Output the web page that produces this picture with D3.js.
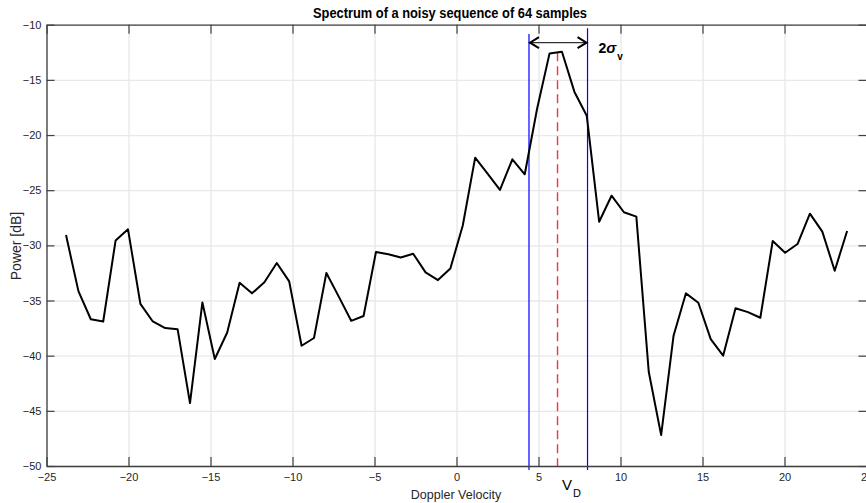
<!DOCTYPE html>
<html>
<head>
<meta charset="utf-8">
<script src="https://cdn.jsdelivr.net/npm/d3@7"></script>
<style>
  html, body { margin: 0; padding: 0; background: #fff; }
  svg { display: block; }
</style>
</head>
<body>
<svg id="chart" width="866" height="503"></svg>
<script>
// Doppler spectrum: 64 bins, power in dB
const sampleCount = 64;
const velocityStart = -23.81;
const velocityStep = 0.756;
const powerDb = [
  -29.07, -34.15, -36.7, -36.9, -29.55, -28.55, -35.3, -36.9,
  -37.5, -37.6, -44.3, -35.17, -40.3, -37.9, -33.4, -34.35,
  -33.35, -31.6, -33.26, -39.1, -38.4, -32.5, -34.65, -36.84,
  -36.4, -30.6, -30.8, -31.1, -30.76, -32.45, -33.15, -32.1,
  -28.2, -22.05, -23.5, -24.98, -22.2, -23.56, -17.6, -12.6,
  -12.45, -16.07, -18.25, -27.86, -25.5, -27.0, -27.4, -41.46,
  -47.2, -38.2, -34.35, -35.2, -38.5, -40.0, -35.7, -36.05,
  -36.56, -29.6, -30.67, -29.88, -27.13, -28.76, -32.3, -28.7
];
const velocities = d3.range(sampleCount).map(i => velocityStart + i * velocityStep);

// Axis ticks
const xTicks = [-25, -20, -15, -10, -5, 0, 5, 10, 15, 20, 25];
const yTicks = [-50, -45, -40, -35, -30, -25, -20, -15, -10];

// Spectral moments: mean Doppler velocity and width bounds (+/- sigma)
const meanVelocity = 6.16;
const widthBounds = [4.42, 7.99];
const widthLineTops = [-10.84, -10.33];
const markerBottom = -50.36;
const meanLineTop = -12.5;
const arrowLevel = -11.63;

const svg = d3.select("#chart");
const margin = { left: 46.5, right: 866.5, top: 24.7, bottom: 466 };
const x = d3.scaleLinear().domain([-25, 25]).range([margin.left, margin.right]);
const y = d3.scaleLinear().domain([-50, -10]).range([margin.bottom, margin.top]);
const W = margin.right - margin.left, H = margin.bottom - margin.top;

// Grid
svg.append("g")
  .attr("transform", `translate(0,${margin.bottom})`)
  .call(d3.axisBottom(x).tickValues(xTicks).tickSize(-H).tickFormat(""))
  .call(g => g.select(".domain").remove())
  .call(g => g.selectAll("line").attr("stroke", "#e0e0e0").attr("stroke-width", 1));
svg.append("g")
  .attr("transform", `translate(${margin.left},0)`)
  .call(d3.axisLeft(y).tickValues(yTicks).tickSize(-W).tickFormat(""))
  .call(g => g.select(".domain").remove())
  .call(g => g.selectAll("line").attr("stroke", "#e8e8e8").attr("stroke-width", 1.3));

// Vertical markers
const markers = svg.append("g");
widthBounds.forEach((v, i) => {
  markers.append("line")
    .attr("x1", x(v)).attr("x2", x(v))
    .attr("y1", y(widthLineTops[i])).attr("y2", y(markerBottom))
    .attr("stroke", "#0000ff").attr("stroke-width", 1.2);
});
markers.append("line")
  .attr("x1", x(meanVelocity)).attr("x2", x(meanVelocity))
  .attr("y1", y(meanLineTop)).attr("y2", y(-50))
  .attr("stroke", "#ff3030").attr("stroke-width", 1.4)
  .attr("stroke-dasharray", "9,5");

// Spectrum line
const line = d3.line().x((d, i) => x(velocities[i])).y(d => y(d));
svg.append("path")
  .datum(powerDb)
  .attr("d", line)
  .attr("fill", "none")
  .attr("stroke", "#000")
  .attr("stroke-width", 2)
  .attr("stroke-linejoin", "round");

// Double arrow for spectral width
const ay = y(arrowLevel), ax1 = x(widthBounds[0]), ax2 = x(widthBounds[1]);
const arrow = svg.append("g");
arrow.append("line")
  .attr("x1", ax1 + 2).attr("x2", ax2 - 2).attr("y1", ay).attr("y2", ay)
  .attr("stroke", "#333").attr("stroke-width", 1.2);
arrow.append("path")
  .attr("d", `M${ax1 + 10},${ay - 5.5} L${ax1 + 1},${ay} L${ax1 + 10},${ay + 5.5}`)
  .attr("fill", "none").attr("stroke", "#000").attr("stroke-width", 2);
arrow.append("path")
  .attr("d", `M${ax2 - 10},${ay - 5.5} L${ax2 - 1},${ay} L${ax2 - 10},${ay + 5.5}`)
  .attr("fill", "none").attr("stroke", "#000").attr("stroke-width", 2);

const sig = svg.append("text")
  .attr("x", ax2 + 11).attr("y", ay + 10)
  .attr("font-family", "Liberation Sans, Arial, sans-serif")
  .attr("font-weight", "bold").attr("font-size", 14).attr("fill", "#000");
sig.append("tspan").text("2");
sig.append("tspan").attr("font-style", "italic").attr("font-size", 15).text("σ");
sig.append("tspan").attr("font-size", 10).attr("dy", 7).attr("dx", 1).text("v");

// Axes (ticks pointing inward, box on all sides)
const axisColor = "#404040";
function styleAxis(g) {
  g.select(".domain").attr("stroke", axisColor).attr("stroke-width", 1.3);
  g.selectAll(".tick line").attr("stroke", axisColor).attr("stroke-width", 1.2);
  g.selectAll(".tick text").attr("fill", "#262626")
    .attr("font-family", "Liberation Sans, Arial, sans-serif").attr("font-size", 11);
}
svg.append("g")
  .attr("transform", `translate(0,${margin.bottom})`)
  .call(d3.axisBottom(x).tickValues(xTicks).tickSizeInner(-9).tickSizeOuter(0).tickPadding(7))
  .call(styleAxis);
svg.append("g")
  .attr("transform", `translate(0,${margin.top})`)
  .call(d3.axisTop(x).tickValues(xTicks).tickSizeInner(-9).tickSizeOuter(0).tickFormat(""))
  .call(styleAxis);
svg.append("g")
  .attr("transform", `translate(${margin.left},0)`)
  .call(d3.axisLeft(y).tickValues(yTicks).tickSizeInner(-8).tickSizeOuter(0).tickPadding(5))
  .call(styleAxis);
svg.append("g")
  .attr("transform", `translate(${margin.right},0)`)
  .call(d3.axisRight(y).tickValues(yTicks).tickSizeInner(-8).tickSizeOuter(0).tickFormat(""))
  .call(styleAxis);

// Title and axis labels
svg.append("text")
  .attr("x", 450).attr("y", 18)
  .attr("text-anchor", "middle")
  .attr("font-family", "Liberation Sans Narrow, Arial Narrow, Liberation Sans, sans-serif")
  .attr("font-weight", "bold").attr("font-size", 14).attr("fill", "#000")
  .attr("textLength", 274).attr("lengthAdjust", "spacingAndGlyphs")
  .text("Spectrum of a noisy sequence of 64 samples");

svg.append("text")
  .attr("x", 456).attr("y", 499)
  .attr("text-anchor", "middle")
  .attr("font-family", "Liberation Sans, Arial, sans-serif")
  .attr("font-size", 12.5).attr("fill", "#262626")
  .text("Doppler Velocity");

svg.append("text")
  .attr("transform", "translate(21,246) rotate(-90)")
  .attr("text-anchor", "middle")
  .attr("font-family", "Liberation Sans, Arial, sans-serif")
  .attr("font-size", 14).attr("fill", "#262626")
  .text("Power [dB]");

const vd = svg.append("text")
  .attr("x", 562).attr("y", 490)
  .attr("font-family", "Liberation Sans, Arial, sans-serif")
  .attr("font-size", 15).attr("fill", "#000");
vd.append("tspan").text("V");
vd.append("tspan").attr("font-size", 11).attr("dy", 7).attr("dx", 1).text("D");
</script>
</body>
</html>
